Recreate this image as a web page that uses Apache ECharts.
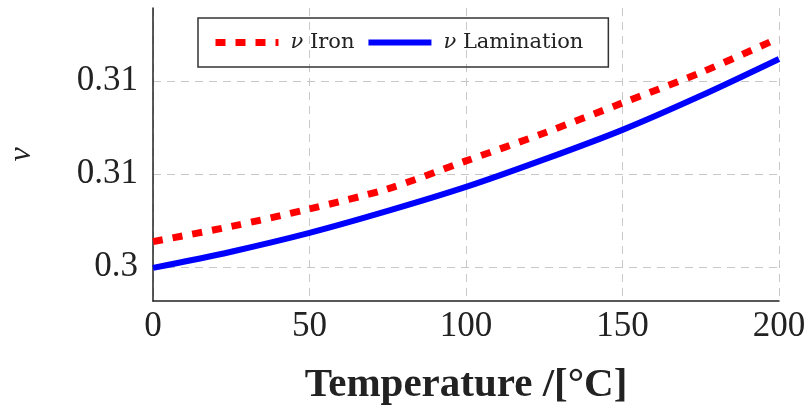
<!DOCTYPE html>
<html>
<head>
<meta charset="utf-8">
<script src="https://cdn.jsdelivr.net/npm/echarts@6/dist/echarts.min.js"></script>
<style>html,body{margin:0;padding:0;background:#fff}#c{width:808px;height:407px}</style>
</head>
<body>
<div id="c"></div>
<script>
const temps = [0, 25, 50, 75, 100, 125, 150, 175, 200];
const ironNu = [0.30136, 0.30218, 0.30312, 0.30420, 0.30570, 0.30720, 0.30882, 0.31045, 0.31231];
const laminationNu = [0.29995, 0.30082, 0.30183, 0.30301, 0.30430, 0.30578, 0.30737, 0.30920, 0.31118];
const yTickValues = [0.3, 0.305, 0.31];
const yTickLabels = ['0.3', '0.31', '0.31'];
const xTickLabels = ['0', '50', '100', '150', '200'];
const seriesNames = ['ν Iron', 'ν Lamination'];

const serif = '"Liberation Serif", "DejaVu Serif", serif';
const chart = echarts.init(document.getElementById('c'), null, {renderer: 'canvas'});
const gridLine = {show: true, lineStyle: {color: '#c8c8c8', type: [8, 6], width: 1}};
const ironLine = {color: '#ff0000', width: 7, type: [10, 10], cap: 'butt'};
const lamLine = {color: '#0000ff', width: 6};
chart.setOption({
  animation: false,
  backgroundColor: '#fff',
  grid: {left: 153, right: 29, top: 8, bottom: 106, containLabel: false, outerBoundsMode: 'none'},
  legend: {
    left: 198, top: 18,
    padding: [14, 25, 14, 14],
    borderColor: '#333', borderWidth: 1.5,
    itemWidth: 63, itemHeight: 14, itemGap: 11,
    itemStyle: {opacity: 0},
    data: [
      {name: seriesNames[0], lineStyle: ironLine},
      {name: seriesNames[1], lineStyle: lamLine}
    ],
    formatter: n => '{i|ν}' + n.slice(1),
    textStyle: {fontFamily: '"DejaVu Serif", serif', fontSize: 21, color: '#222', padding: [0, 0, 0, 7],
      rich: {i: {fontFamily: '"DejaVu Serif", serif', fontStyle: 'italic', fontSize: 21, color: '#222'}}}
  },
  xAxis: {
    type: 'value', min: 0, max: 200, interval: 50,
    name: 'Temperature /[°C]', nameLocation: 'middle', nameGap: 64,
    nameTextStyle: {fontFamily: serif, fontSize: 41, fontWeight: 'bold', color: '#222'},
    axisLine: {show: true, onZero: false, lineStyle: {color: '#222', width: 1.5}},
    axisTick: {show: false},
    axisLabel: {fontFamily: serif, fontSize: 35, color: '#222', margin: 8,
      formatter: v => xTickLabels[Math.round(v / 50)]},
    splitLine: gridLine
  },
  yAxis: {
    type: 'value', min: 0.29817, max: 0.31392,
    name: 'ν', nameLocation: 'middle', nameGap: 115, nameRotate: 90,
    nameTextStyle: {fontFamily: serif, fontSize: 32, fontStyle: 'italic', color: '#222'},
    axisLine: {show: true, lineStyle: {color: '#222', width: 1.5}},
    axisTick: {show: false, customValues: yTickValues},
    axisLabel: {fontFamily: serif, fontSize: 35, color: '#222', margin: 15,
      customValues: yTickValues,
      formatter: v => { const i = yTickValues.findIndex(t => Math.abs(t - v) < 1e-6); return i >= 0 ? yTickLabels[i] : ''; }},
    splitLine: gridLine
  },
  series: [
    {name: seriesNames[0], type: 'line', data: temps.map((t, i) => [t, ironNu[i]]),
      showSymbol: false, symbol: 'none', smooth: 0.3,
      itemStyle: {color: '#ff0000'}, lineStyle: ironLine},
    {name: seriesNames[1], type: 'line', data: temps.map((t, i) => [t, laminationNu[i]]),
      showSymbol: false, symbol: 'none', smooth: 0.3,
      itemStyle: {color: '#0000ff'}, lineStyle: lamLine}
  ]
});
</script>
</body>
</html>
